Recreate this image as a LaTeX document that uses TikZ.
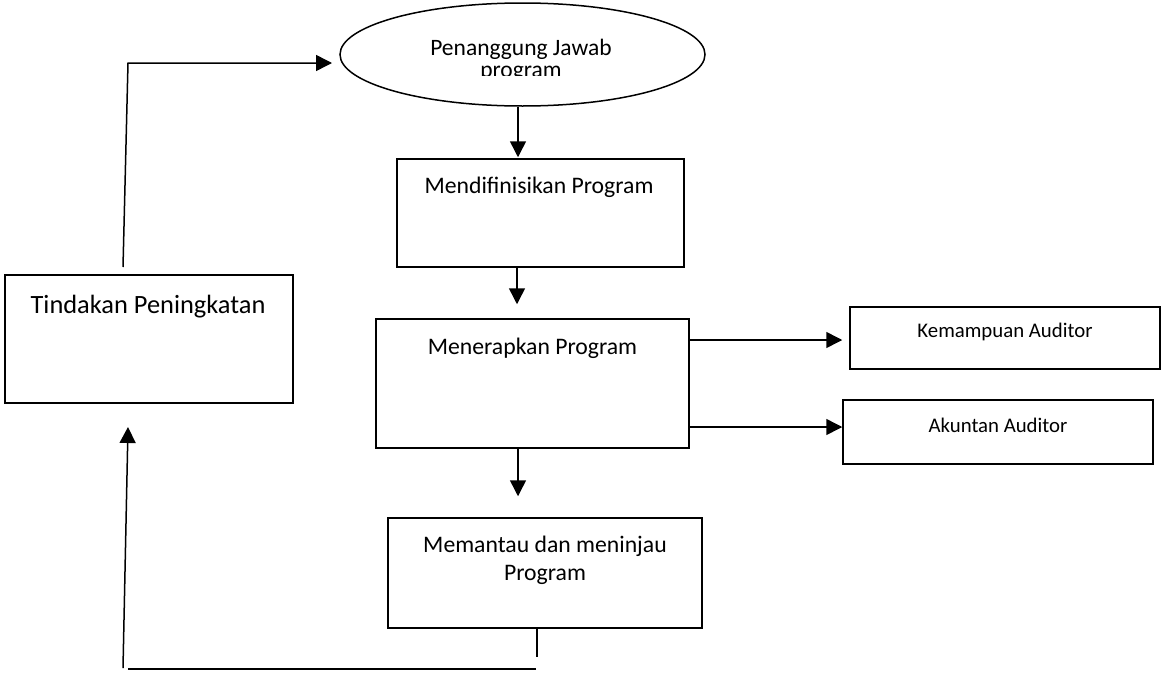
\documentclass[tikz,border=0pt]{standalone}
\usepackage{fontspec}
\setmainfont{Carlito}
\usetikzlibrary{arrows.meta,shapes.geometric,calc}

\tikzset{
  box/.style={draw, line width=1.5pt, rectangle, inner sep=0pt},
  oval/.style={draw, line width=1.5pt, ellipse, inner sep=0pt},
  lbl/.style={anchor=base, inner sep=0pt, align=center},
  conn/.style={line width=1.5pt},
  arr/.style={conn, -{Triangle[length=16pt,width=16pt]}},
  mid/.style={font=\fontsize{23.7}{28}\selectfont},
  big/.style={font=\fontsize{26.4}{31}\selectfont},
  small/.style={font=\fontsize{20.8}{25}\selectfont},
}

\begin{document}
\begin{tikzpicture}[x=1pt, y=-1pt]
\useasboundingbox[fill=white] (0,0) rectangle (1161,672);

% shapes
\node[oval, minimum width=365pt, minimum height=103pt] (ell) at (522.5,54.5) {};
\node[box, minimum width=287pt, minimum height=108pt] (mend) at (540.5,213) {};
\node[box, minimum width=313pt, minimum height=129pt] (mener) at (532.5,383.5) {};
\node[box, minimum width=314pt, minimum height=110pt] (mant) at (545,573) {};
\node[box, minimum width=310pt, minimum height=62pt] (kem) at (1005,338) {};
\node[box, minimum width=310pt, minimum height=64pt] (aku) at (998,432) {};
\node[box, minimum width=288pt, minimum height=128pt] (tind) at (149,339) {};

% texts (multi-line labels sit on the baseline of their last line)
\begin{scope}
  \clip (300,0) rectangle (720,75);
  \node[lbl, font=\fontsize{23.5}{22}\selectfont] (ellT) at (521,77) {Penanggung Jawab\\program};
\end{scope}
\node[lbl, mid] (mendT) at (539,193) {Mendifinisikan Program};
\node[lbl, mid] (menerT) at (532.5,354) {Menerapkan Program};
\node[lbl, mid] (mantT) at (545,580) {Memantau dan meninjau\\Program};
\node[lbl, small] (kemT) at (1005,337) {Kemampuan Auditor};
\node[lbl, small] (akuT) at (998,432) {Akuntan Auditor};
\node[lbl, big] (tindT) at (148,313) {Tindakan Peningkatan};

% free ends of the feedback loop
\coordinate (loopA) at (537,657);
\coordinate (loopB) at (536,669);
\coordinate (loopC) at (128,669);
\coordinate (upFoot) at (123,668);
\coordinate (upTip) at (128,427);
\coordinate (topFoot) at (123,267);
\coordinate (topCorner) at (128,63);
\coordinate (topTip) at (332,63);

% main flow
\draw[arr, shorten >=1pt] (ell.south -| 518,0) -- (mend.north -| 518,0);
\draw[arr, shorten >=14pt] (mend.south -| 517,0) -- (mener.north -| 517,0);
\draw[arr, shorten >=21pt] (mener.south -| 518,0) -- (mant.north -| 518,0);
\draw[arr, shorten >=7pt] (mener.east |- 0,340) -- (kem.west |- 0,340);
\draw[arr] (mener.east |- 0,427) -- (aku.west |- 0,427);

% feedback loop
\draw[conn] (mant.south -| loopA) -- (loopA);
\draw[conn] (loopB) -- (loopC);
\draw[arr] (upFoot) -- (upTip);
\draw[arr] (topFoot) -- (topCorner) -- (topTip);
\end{tikzpicture}
\end{document}
